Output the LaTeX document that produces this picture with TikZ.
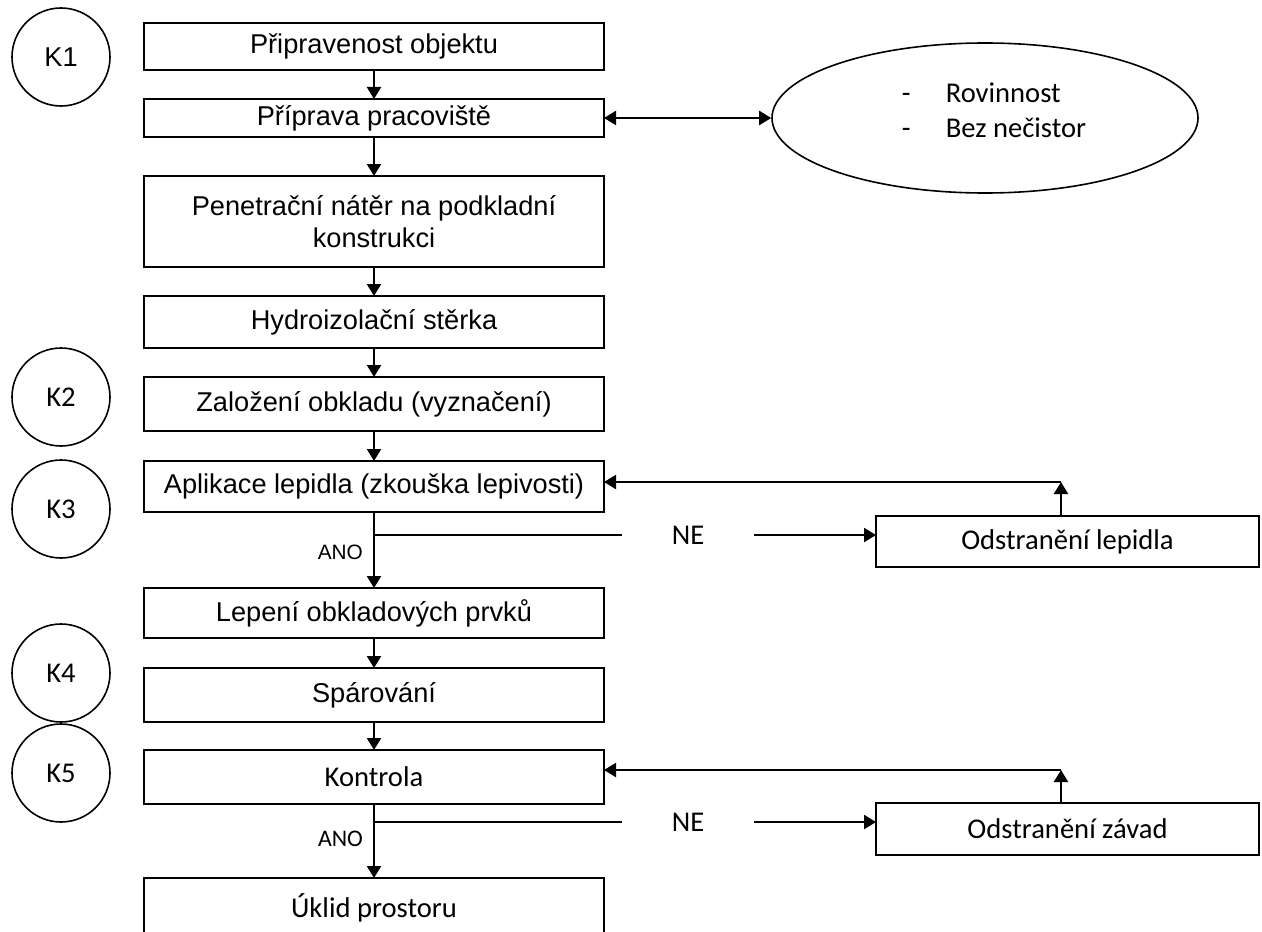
\documentclass[tikz,border=0pt]{standalone}
\usepackage{fontspec}
\setmainfont{Liberation Sans}
\newfontfamily\calib{Carlito}
\usetikzlibrary{positioning,shapes.geometric,arrows.meta,calc}

\begin{document}
\begin{tikzpicture}[x=0.5pt,y=-0.5pt,
  font=\fontsize{13.6pt}{16pt}\selectfont,
  node distance=14.5pt,
  krok/.style={draw,line width=0.9pt,minimum width=230pt,inner sep=0pt,outer sep=0pt,
    align=center},
  vedl/.style={draw,line width=0.9pt,minimum width=191.5pt,inner sep=0pt,outer sep=0pt,
    font=\calib\fontsize{14.3pt}{17pt}\selectfont},
  kbod/.style={draw,circle,line width=0.8pt,minimum size=49pt,inner sep=0pt},
  cal/.style={font=\calib\fontsize{14.3pt}{17.5pt}\selectfont},
  ano/.style={inner sep=5pt,font=\fontsize{10.4pt}{12pt}\selectfont},
  anoc/.style={inner sep=5pt,font=\calib\fontsize{11.9pt}{14pt}\selectfont},
  car/.style={line width=1.1pt},
  sip/.style={line width=1.1pt,-{Triangle[length=6pt,width=7pt]}}]
  \useasboundingbox (0,0) rectangle (1262,931);
  \clip (0,0) rectangle (1262,931);

  \node (pri) [krok,minimum height=23.5pt] at (374,46.5) {Připravenost objektu};
  \node (pra) [krok,minimum height=19pt,below=of pri] {Příprava pracoviště};
  \node (pen) [krok,minimum height=45.5pt,below=19.5pt of pra]
    {Penetrační nátěr na podkladní\\konstrukci};
  \node (hyd) [krok,minimum height=26pt,below=of pen] {Hydroizolační stěrka};
  \node (zal) [krok,minimum height=27pt,below=of hyd] {Založení obkladu (vyznačení)};
  \node (apl) [krok,minimum height=25.5pt,below=15pt of zal]
    {Aplikace lepidla (zkouška lepivosti)};
  \node (lep) [krok,minimum height=25pt,below=38pt of apl] {Lepení obkladových prvků};
  \node (spa) [krok,minimum height=27pt,below=15pt of lep] {Spárování};
  \node (kon) [krok,cal,minimum height=27pt,below=14pt of spa] {Kontrola};
  \node (ukl) [krok,cal,minimum height=30pt,below=37pt of kon] {Úklid prostoru};

  \node (k1) [kbod] at (61,57) {K1};
  \node (k2) [kbod,cal] at (61,397) {K2};
  \node (k3) [kbod,cal] at (61,509) {K3};
  \node (k4) [kbod,cal] at (61,673) {K4};
  \node (k5) [kbod,cal] at (61,773) {K5};

  \node (cond) [draw,ellipse,line width=0.8pt,minimum width=213pt,minimum height=75pt]
    at (985,118) {};
  \node (condtxt) [cal,align=left] at (994,110)
    {\makebox[22pt][l]{-}Rovinnost\\\makebox[22pt][l]{-}Bez nečistor};

  \node (odl) [vedl,minimum height=25.5pt] at (1067.5,541.5) {Odstranění lepidla};
  \node (odz) [vedl,minimum height=26pt] at (1067.5,829) {Odstranění závad};

  \node (ne1) [cal,minimum width=66pt] at (688,535) {NE};
  \node (ne2) [cal,minimum width=66pt] at (688,822) {NE};
  \coordinate (r1) at (1061,482);
  \coordinate (r2) at (1061,770);

  \foreach \a/\b in {pri/pra,pra/pen,pen/hyd,hyd/zal,zal/apl,lep/spa,spa/kon} {
    \draw[sip] (\a) -- (\b);
  }
  \draw[car,{Triangle[length=6pt,width=7pt]}-{Triangle[length=6pt,width=7pt]}]
    (pra) -- (cond);

  \draw[sip] (apl) -- node[ano,left,pos=0.53] {ANO} (lep);
  \draw[car] (apl.south |- ne1) -- (ne1);
  \draw[sip] (ne1) -- (ne1 -| odl.west);
  \draw[sip] (odl.north -| r1) -- (r1);
  \draw[sip] (r1) -- (r1 -| apl.east);

  \draw[sip] (kon) -- node[anoc,left,pos=0.47] {ANO} (ukl);
  \draw[car] (kon.south |- ne2) -- (ne2);
  \draw[sip] (ne2) -- (ne2 -| odz.west);
  \draw[sip] (odz.north -| r2) -- (r2);
  \draw[sip] (r2) -- (r2 -| kon.east);
\end{tikzpicture}
\end{document}
